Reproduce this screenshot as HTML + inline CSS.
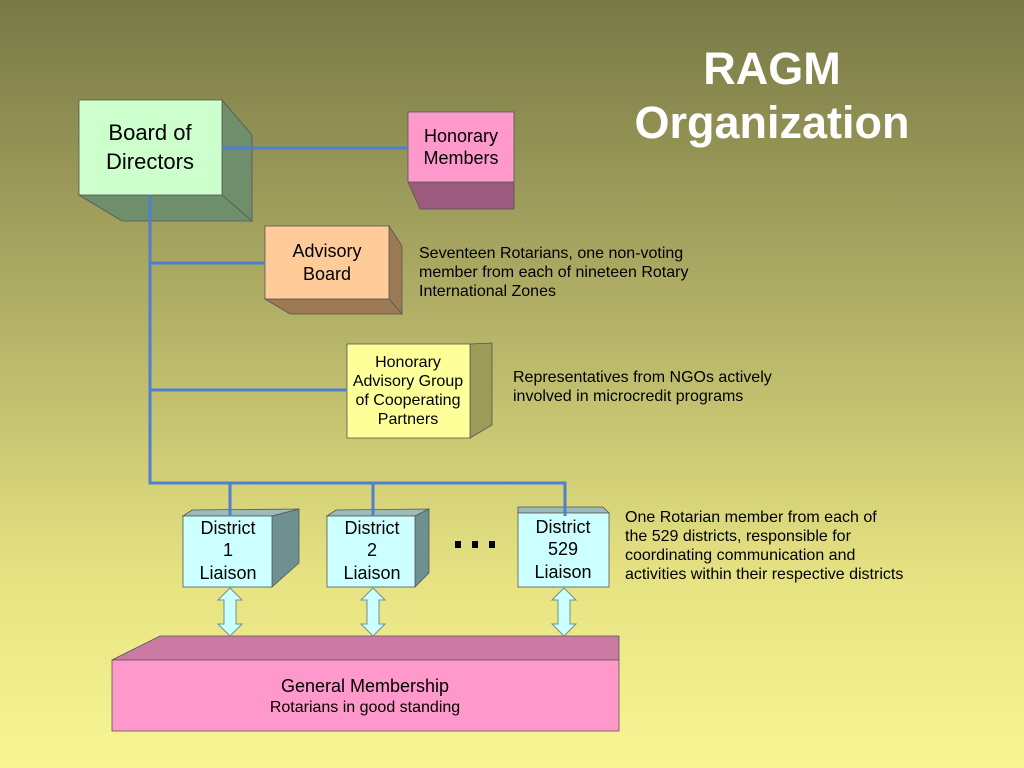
<!DOCTYPE html>
<html><head><meta charset="utf-8"><style>
html,body{margin:0;padding:0;width:1024px;height:768px;overflow:hidden}
svg{display:block}
text{font-family:"Liberation Sans",Arial,sans-serif}
</style></head><body>
<svg width="1024" height="768" viewBox="0 0 1024 768" xmlns="http://www.w3.org/2000/svg">
<defs><linearGradient id="bg" x1="0" y1="0" x2="0" y2="1">
<stop offset="0" stop-color="#787846"/><stop offset="0.45" stop-color="#b8b66a"/><stop offset="0.75" stop-color="#e6e282"/><stop offset="1" stop-color="#f8f694"/></linearGradient></defs>
<rect width="1024" height="768" fill="url(#bg)"/>
<text x="772" y="84" font-size="45" font-weight="bold" fill="#fff" text-anchor="middle">RAGM</text>
<text x="772" y="138" font-size="45" font-weight="bold" fill="#fff" text-anchor="middle">Organization</text>

<g stroke="#555" stroke-width="0.8">
<polygon points="222,100 252,135 252,221 222,195" fill="#6e8e6c"/>
<polygon points="79,195 122,221 252,221 222,195" fill="#6e8e6c"/>
<rect x="79" y="100" width="143" height="95" fill="#ccffcc"/>
<polygon points="408,182 420,209 514,209 514,182" fill="#9c5a7e"/>
<rect x="408" y="112" width="106" height="70" fill="#ff99cc"/>
<polygon points="389,226 402,246 402,314 389,299" fill="#9c7a55"/>
<polygon points="265,299 290,314 402,314 389,299" fill="#9c7a55"/>
<rect x="265" y="226" width="124" height="73" fill="#ffcc99"/>
<polygon points="470,344 492,343 492,425 470,438" fill="#9c9c58"/>
<rect x="347" y="344" width="123" height="94" fill="#ffff99"/>
<polygon points="183,516 192,510 299,509 272,516" fill="#9cbcbc"/>
<polygon points="272,516 299,509 299,563 272,587" fill="#6f9090"/>
<rect x="183" y="516" width="89" height="71" fill="#ccffff"/>
<polygon points="327,516 336,510 429,509 415,516" fill="#9cbcbc"/>
<polygon points="415,516 429,509 429,573 415,587" fill="#6f9090"/>
<rect x="327" y="516" width="88" height="71" fill="#ccffff"/>
<polygon points="518,513 518,507 603,507 609,513" fill="#9cbcbc"/>
<rect x="518" y="513" width="91" height="74" fill="#ccffff"/>
<polygon points="112,660 160,636 619,636 619,660" fill="#cc7aa3"/>
<rect x="112" y="660" width="507" height="71" fill="#ff99cc"/>
</g>

<g stroke="#4f7fcf" stroke-width="3" fill="none">
<path d="M222,148 H408"/>
<path d="M150,195 V483 H565 V516"/>
<path d="M150,263 H265"/>
<path d="M150,390 H347"/>
<path d="M230,483 V516"/>
<path d="M373,483 V516"/>
</g>

<g fill="#ccffff" stroke="#6f9090" stroke-width="1">
<polygon points="230,588 242,600 236,600 236,624 242,624 230,636 218,624 224,624 224,600 218,600"/>
<polygon points="373,588 385,600 379,600 379,624 385,624 373,636 361,624 367,624 367,600 361,600"/>
<polygon points="564,588 576,600 570,600 570,624 576,624 564,636 552,624 558,624 558,600 552,600"/>
</g>

<g fill="#000" text-anchor="middle">
<text x="150" y="140" font-size="22">Board of</text>
<text x="150" y="169" font-size="22">Directors</text>
<text x="461" y="142" font-size="18">Honorary</text>
<text x="461" y="164" font-size="18">Members</text>
<text x="327" y="257" font-size="18">Advisory</text>
<text x="327" y="280" font-size="18">Board</text>
<text x="408" y="367" font-size="16">Honorary</text>
<text x="408" y="386" font-size="16">Advisory Group</text>
<text x="408" y="405" font-size="16">of Cooperating</text>
<text x="408" y="424" font-size="16">Partners</text>
<text x="228" y="534" font-size="18">District</text>
<text x="228" y="556" font-size="18">1</text>
<text x="228" y="579" font-size="18">Liaison</text>
<text x="372" y="534" font-size="18">District</text>
<text x="372" y="556" font-size="18">2</text>
<text x="372" y="579" font-size="18">Liaison</text>
<text x="563" y="533" font-size="18">District</text>
<text x="563" y="555" font-size="18">529</text>
<text x="563" y="578" font-size="18">Liaison</text>
<text x="365" y="692" font-size="18">General Membership</text>
<text x="365" y="712" font-size="16">Rotarians in good standing</text>
</g>
<g fill="#000">
<rect x="455" y="541" width="6" height="7"/><rect x="472" y="541" width="6" height="7"/><rect x="489" y="541" width="6" height="7"/>
</g>
<g fill="#000" font-size="16">
<text x="419" y="258">Seventeen Rotarians, one non-voting</text>
<text x="419" y="277">member from each of nineteen Rotary</text>
<text x="419" y="296">International Zones</text>
<text x="513" y="382">Representatives from NGOs actively</text>
<text x="513" y="401">involved in microcredit programs</text>
<text x="625" y="522">One Rotarian member from each of</text>
<text x="625" y="541">the 529 districts, responsible for</text>
<text x="625" y="560">coordinating communication and</text>
<text x="625" y="579">activities within their respective districts</text>
</g>
</svg>
</body></html>
